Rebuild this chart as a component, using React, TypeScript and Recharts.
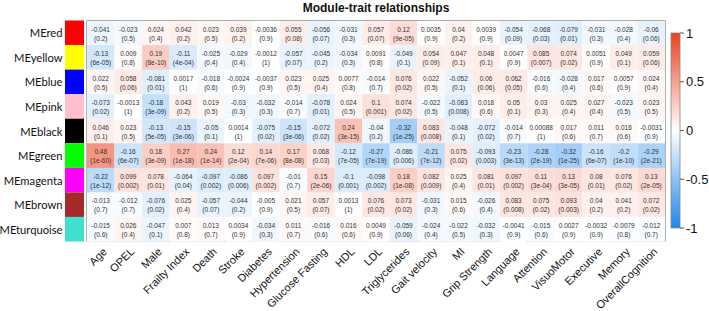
import React from 'react';
import { BarChart, Bar, XAxis, YAxis, Cell, LabelList, ReferenceArea } from 'recharts';

const modules = ['MEred', 'MEyellow', 'MEblue', 'MEpink', 'MEblack', 'MEgreen', 'MEmagenta', 'MEbrown', 'MEturquoise'];
const moduleColors = ['#FF0000', '#FFFF00', '#0000FF', '#FFC0CB', '#000000', '#00FF00', '#FF00FF', '#A52A2A', '#40E0D0'];

const traits = [
  'Age', 'OPEL', 'Male', 'Frailty Index', 'Death', 'Stroke', 'Diabetes', 'Hypertension', 'Glucose Fasting',
  'HDL', 'LDL', 'Triglycerides', 'Gait velocity', 'MI', 'Grip Strength', 'Language', 'Attention',
  'VisuoMotor', 'Executive', 'Memory', 'OverallCognition',
];

// correlations, one array per module (row)
const corrRed = [-0.041, -0.023, 0.024, 0.042, 0.023, 0.039, -0.0036, 0.055, -0.056, -0.031, 0.057, 0.12, 0.0035, 0.04, 0.0039, -0.054, -0.068, -0.079, -0.031, -0.028, -0.06];
const corrYellow = [-0.13, 0.009, 0.19, -0.11, -0.025, -0.029, -0.0012, -0.057, -0.045, -0.034, 0.0091, -0.049, 0.054, 0.047, 0.048, 0.0047, 0.085, 0.074, 0.0051, 0.049, 0.059];
const corrBlue = [0.022, 0.058, -0.081, 0.0017, -0.018, -0.0024, -0.0037, 0.023, 0.025, 0.0077, -0.014, 0.076, 0.022, -0.052, 0.06, 0.062, -0.016, -0.028, 0.017, 0.0057, 0.024];
const corrPink = [-0.073, -0.0013, -0.18, 0.043, 0.019, -0.03, -0.032, -0.014, -0.078, 0.024, 0.1, 0.074, -0.022, -0.083, 0.018, 0.05, 0.03, 0.025, 0.027, -0.023, 0.023];
const corrBlack = [0.046, 0.023, -0.13, -0.15, -0.05, 0.0014, -0.075, -0.15, -0.072, 0.24, -0.04, -0.32, 0.083, -0.048, -0.072, -0.014, 0.00088, 0.017, 0.011, 0.016, -0.0031];
const corrGreen = [0.48, -0.16, 0.18, 0.27, 0.24, 0.12, 0.14, 0.17, 0.068, -0.12, -0.27, -0.086, -0.21, 0.075, -0.093, -0.23, -0.28, -0.32, -0.16, -0.2, -0.29];
const corrMagenta = [-0.22, 0.099, 0.078, -0.064, -0.097, -0.086, 0.097, -0.01, 0.15, -0.1, -0.098, 0.18, 0.082, 0.025, 0.081, 0.097, 0.11, 0.13, 0.08, 0.076, 0.13];
const corrBrown = [-0.013, -0.012, -0.076, 0.025, -0.057, -0.044, -0.005, 0.021, 0.057, 0.0013, 0.076, 0.073, -0.031, 0.015, -0.026, 0.083, 0.075, 0.093, 0.04, 0.041, 0.072];
const corrTurquoise = [-0.015, 0.026, -0.047, 0.007, 0.013, 0.0034, -0.034, 0.011, -0.016, 0.016, 0.0049, -0.059, -0.024, -0.022, -0.032, -0.0041, -0.015, 0.0027, -0.0032, -0.0079, -0.012];

// p-values as printed
const pRed = ['0.2', '0.5', '0.4', '0.2', '0.5', '0.2', '0.9', '0.08', '0.07', '0.3', '0.07', '9e-05', '0.9', '0.2', '0.9', '0.09', '0.03', '0.01', '0.3', '0.4', '0.06'];
const pYellow = ['6e-05', '0.8', '8e-10', '4e-04', '0.4', '0.4', '1', '0.07', '0.2', '0.3', '0.8', '0.1', '0.09', '0.1', '0.1', '0.9', '0.007', '0.02', '0.9', '0.1', '0.06'];
const pBlue = ['0.5', '0.06', '0.01', '1', '0.6', '0.9', '0.9', '0.5', '0.4', '0.8', '0.7', '0.02', '0.5', '0.1', '0.06', '0.05', '0.6', '0.4', '0.6', '0.9', '0.4'];
const pPink = ['0.02', '1', '3e-09', '0.2', '0.5', '0.3', '0.3', '0.7', '0.01', '0.5', '0.001', '0.02', '0.5', '0.008', '0.6', '0.1', '0.3', '0.4', '0.4', '0.5', '0.5'];
const pBlack = ['0.1', '0.5', '5e-05', '3e-06', '0.1', '1', '0.02', '3e-06', '0.02', '3e-15', '0.2', '1e-25', '0.008', '0.1', '0.02', '0.7', '1', '0.6', '0.7', '0.6', '0.9'];
const pGreen = ['1e-60', '6e-07', '3e-09', '1e-18', '1e-14', '2e-04', '7e-06', '8e-08', '0.03', '7e-05', '7e-19', '0.006', '7e-12', '0.02', '0.003', '3e-13', '2e-19', '1e-25', '6e-07', '1e-10', '2e-21'];
const pMagenta = ['1e-12', '0.002', '0.01', '0.04', '0.002', '0.006', '0.002', '0.7', '2e-06', '0.001', '0.002', '1e-08', '0.009', '0.4', '0.01', '0.002', '3e-04', '3e-05', '0.01', '0.02', '2e-05'];
const pBrown = ['0.7', '0.7', '0.02', '0.4', '0.07', '0.2', '0.9', '0.5', '0.07', '1', '0.02', '0.02', '0.3', '0.6', '0.4', '0.008', '0.02', '0.003', '0.2', '0.2', '0.02'];
const pTurquoise = ['0.6', '0.4', '0.1', '0.8', '0.7', '0.9', '0.3', '0.7', '0.6', '0.6', '0.9', '0.06', '0.4', '0.5', '0.3', '0.9', '0.6', '0.9', '0.9', '0.8', '0.7'];

const corr = [corrRed, corrYellow, corrBlue, corrPink, corrBlack, corrGreen, corrMagenta, corrBrown, corrTurquoise];
const pvals = [pRed, pYellow, pBlue, pPink, pBlack, pGreen, pMagenta, pBrown, pTurquoise];

const legendTicks = [1, 0.5, 0, -0.5, -1];

const W = 709;
const H = 311;
const PLOT_LEFT = 87;
const PLOT_RIGHT = 665;
const PLOT_TOP = 20.5;
const PLOT_BOTTOM = 241.5;
const ROW_H = (PLOT_BOTTOM - PLOT_TOP) / modules.length;

const FONT = '"Liberation Sans", Arial, sans-serif';

const RED = [238, 64, 30];
const BLUE = [28, 134, 238];

function corrColor(v: number) {
  const t = Math.pow(Math.min(1, Math.abs(v)), 0.8);
  const end = v >= 0 ? RED : BLUE;
  const c = end.map(e => Math.round(255 + (e - 255) * t));
  return `rgb(${c[0]},${c[1]},${c[2]})`;
}

const data = modules.map(m => {
  const row: Record<string, string | number> = { module: m };
  traits.forEach((_, j) => { row['c' + j] = 1; });
  return row;
});

function ModuleTick(props: any) {
  const { x, y, payload, index } = props;
  return (
    <g>
      <text x={x - 24.5} y={y} textAnchor="end" dominantBaseline="central" fontSize={11.2} fontFamily="Lato, sans-serif" fill="#111">
        {payload.value}
      </text>
      <rect x={x - 22} y={y - ROW_H / 2} width={19} height={ROW_H} fill={moduleColors[index]} />
    </g>
  );
}

function TraitTick(props: any) {
  const { x, y, payload } = props;
  const tx = x + 4;
  const ty = y + 8;
  return (
    <text
      x={tx}
      y={ty}
      transform={`rotate(-45, ${tx}, ${ty})`}
      textAnchor="end"
      dominantBaseline="central"
      fontSize={11}
      fontFamily={FONT}
      fill="#111"
    >
      {traits[Math.round(payload.value - 0.5)]}
    </text>
  );
}

function cellLabel(j: number) {
  return (props: any) => {
    const { x, y, width, height, index } = props;
    const cx = x + width / 2;
    const cy = y + height / 2;
    return (
      <g>
        <text x={cx} y={cy - 4} textAnchor="middle" dominantBaseline="central" fontSize={6.5} fontFamily={FONT} fill="#333">
          {String(corr[index][j])}
        </text>
        <text x={cx} y={cy + 5} textAnchor="middle" dominantBaseline="central" fontSize={6.5} fontFamily={FONT} fill="#333">
          ({pvals[index][j]})
        </text>
      </g>
    );
  };
}

export default function App() {
  const barTop = 33;
  const barBottom = 228;
  const legendY = (v: number) => barTop + ((1 - v) / 2) * (barBottom - barTop);
  return (
    <div style={{ position: 'absolute', left: 0, top: 0, width: W, height: H, background: '#fff' }}>
      <BarChart
        width={W}
        height={H}
        data={data}
        layout="vertical"
        barCategoryGap={0}
        barGap={0}
        margin={{ top: PLOT_TOP, right: W - PLOT_RIGHT, left: 0, bottom: H - PLOT_BOTTOM - 60 }}
      >
        <XAxis
          type="number"
          domain={[0, traits.length]}
          ticks={traits.map((_, j) => j + 0.5)}
          interval={0}
          height={60}
          axisLine={false}
          tickLine={false}
          tickSize={0}
          tickMargin={0}
          tick={<TraitTick />}
          allowDataOverflow
        />
        <YAxis
          type="category"
          dataKey="module"
          width={PLOT_LEFT}
          axisLine={false}
          tickLine={false}
          tickSize={0}
          tickMargin={0}
          interval={0}
          tick={<ModuleTick />}
        />
        {traits.map((t, j) => (
          <Bar key={t} dataKey={'c' + j} stackId="a" isAnimationActive={false}>
            {modules.map((m, i) => (
              <Cell key={m} fill={corrColor(corr[i][j])} />
            ))}
            <LabelList content={cellLabel(j)} />
          </Bar>
        ))}
        <ReferenceArea x1={0} x2={traits.length} fill="none" stroke="#666" strokeWidth={1} ifOverflow="visible" />
      </BarChart>
      <svg width={W} height={H} style={{ position: 'absolute', left: 0, top: 0, pointerEvents: 'none' }}>
        <defs>
          <linearGradient id="cbar" x1="0" y1="0" x2="0" y2="1">
            <stop offset="0%" stopColor={`rgb(${RED.join(',')})`} />
            <stop offset="50%" stopColor="#ffffff" />
            <stop offset="100%" stopColor={`rgb(${BLUE.join(',')})`} />
          </linearGradient>
        </defs>
        <text x={(PLOT_LEFT + PLOT_RIGHT) / 2} y={12} textAnchor="middle" fontSize={12} fontWeight="bold" fontFamily={FONT} fill="#111">
          Module-trait relationships
        </text>
        <rect x={671} y={barTop} width={9} height={barBottom - barTop} fill="url(#cbar)" stroke="#888" strokeWidth={0.8} />
        {legendTicks.map(v => (
          <g key={v}>
            <line x1={680} x2={684} y1={legendY(v)} y2={legendY(v)} stroke="#555" />
            <text x={686} y={legendY(v)} dominantBaseline="central" fontSize={13} fontFamily={FONT} fill="#111">
              {v}
            </text>
          </g>
        ))}
      </svg>
    </div>
  );
}
